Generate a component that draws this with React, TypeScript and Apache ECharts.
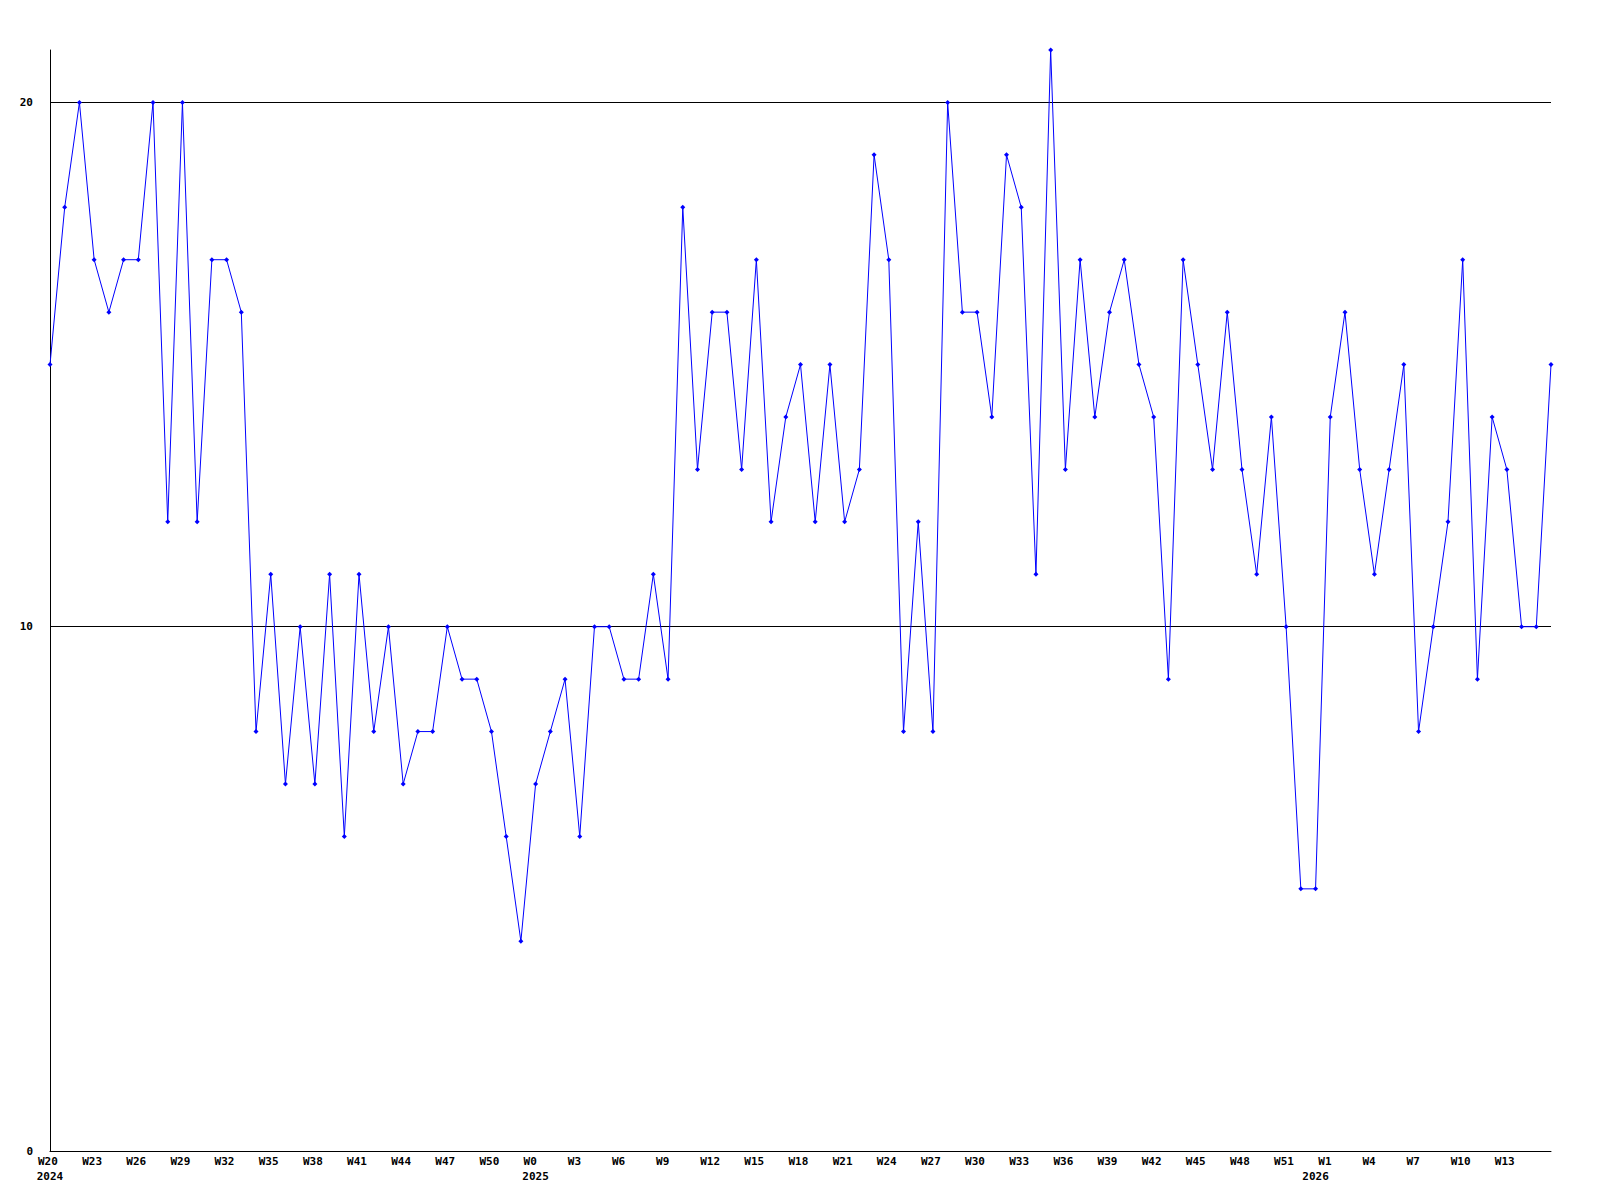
import React, { useEffect, useRef } from "react";
import * as echarts from "echarts";

// Week numbers per year (2024: W20..W52, 2025: W0..W52, 2026: W0..W16)
const weeks2024: number[] = Array.from({ length: 33 }, (_, i) => 20 + i);
const weeks2025: number[] = Array.from({ length: 53 }, (_, i) => i);
const weeks2026: number[] = Array.from({ length: 17 }, (_, i) => i);

const categories: string[] = [
  ...weeks2024.map((w) => `W${w}|2024`),
  ...weeks2025.map((w) => `W${w}|2025`),
  ...weeks2026.map((w) => `W${w}|2026`),
];

const values: number[] = [
  15, 18, 20, 17, 16, 17, 17, 20, 12, 20,
  12, 17, 17, 16, 8, 11, 7, 10, 7, 11,
  6, 11, 8, 10, 7, 8, 8, 10, 9, 9,
  8, 6, 4, 7, 8, 9, 6, 10, 10, 9,
  9, 11, 9, 18, 13, 16, 16, 13, 17, 12,
  14, 15, 12, 15, 12, 13, 19, 17, 8, 12,
  8, 20, 16, 16, 14, 19, 18, 11, 21, 13,
  17, 14, 16, 17, 15, 14, 9, 17, 15, 13,
  16, 13, 11, 14, 10, 5, 5, 14, 16, 13,
  11, 13, 15, 8, 10, 12, 17, 9, 14, 13,
  10, 10, 15,
];

const refLines: number[] = [10, 20];
const yTicks = { min: 0, max: 21, interval: 10 };

const FONT = "DejaVu Sans Mono";

const yearOf = (i: number) => categories[i].split("|")[1];
const isYearStart = (i: number) => i === 0 || yearOf(i) !== yearOf(i - 1);

export default function App() {
  const ref = useRef<HTMLDivElement>(null);

  useEffect(() => {
    if (!ref.current) return;
    const chart = echarts.init(ref.current, undefined, { renderer: "svg" });
    const labelBase = {
      color: "#000",
      fontFamily: FONT,
      fontWeight: "bold",
      fontSize: 11,
    };
    chart.setOption({
      animation: false,
      backgroundColor: "#ffffff",
      grid: { left: 50, right: 49, top: 50, bottom: 49, containLabel: false },
      xAxis: [
        {
          type: "category",
          data: categories,
          boundaryGap: false,
          position: "bottom",
          axisLine: { show: true, lineStyle: { color: "#000", width: 1 } },
          axisTick: { show: false },
          splitLine: { show: false },
          axisLabel: {
            ...labelBase,
            interval: (index: number) =>
              index % 3 === 0 && index < categories.length - 1,
            margin: 5,
            align: "left",
            padding: [0, 0, 0, -12],
            formatter: (value: string) => value.split("|")[0],
          },
        },
        {
          type: "category",
          data: categories,
          boundaryGap: false,
          position: "bottom",
          axisLine: { show: false },
          axisTick: { show: false },
          splitLine: { show: false },
          axisLabel: {
            ...labelBase,
            interval: (index: number) => isYearStart(index),
            margin: 20,
            align: "center",
            formatter: (value: string) => value.split("|")[1],
          },
        },
      ],
      yAxis: {
        type: "value",
        min: yTicks.min,
        max: yTicks.max,
        interval: yTicks.interval,
        axisLine: { show: true, lineStyle: { color: "#000", width: 1 } },
        axisTick: { show: false },
        splitLine: { show: false },
        axisLabel: {
          ...labelBase,
          margin: 17,
          showMaxLabel: false,
          formatter: (v: number) => (v % yTicks.interval === 0 ? String(v) : ""),
        },
      },
      series: [
        {
          type: "line",
          xAxisIndex: 0,
          data: values,
          symbol: "diamond",
          symbolSize: 5,
          showSymbol: true,
          itemStyle: { color: "#0000ff" },
          lineStyle: { color: "#0000ff", width: 1 },
          markLine: {
            silent: true,
            symbol: "none",
            label: { show: false },
            lineStyle: { color: "#000", width: 1, type: "solid" },
            data: refLines.map((v) => ({ yAxis: v })),
            z: 1,
          },
        },
      ],
    });
    return () => chart.dispose();
  }, []);

  return (
    <div
      ref={ref}
      style={{ position: "fixed", left: 0, top: 0, width: 1600, height: 1200 }}
    />
  );
}
